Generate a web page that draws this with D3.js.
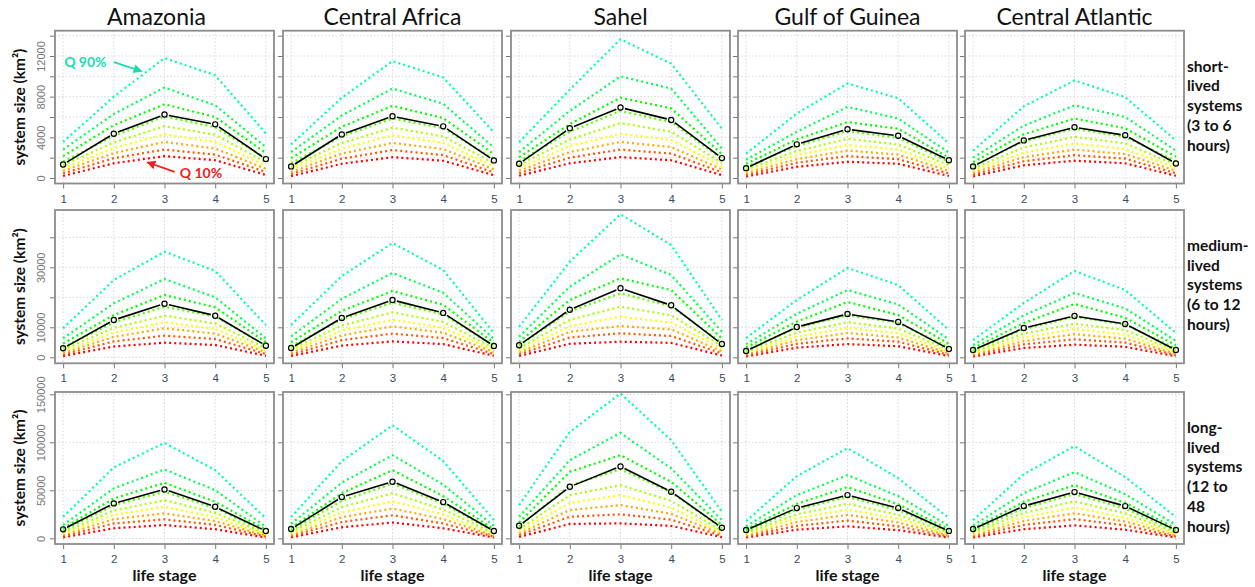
<!DOCTYPE html>
<html>
<head>
<meta charset="utf-8">
<script src="https://cdn.jsdelivr.net/npm/d3@7"></script>
<style>
  body { margin: 0; background: #fff; }
  svg { display: block; }
  text { font-family: Lato, "Open Sans", "DejaVu Sans", sans-serif; }
</style>
</head>
<body>
<div id="chart"></div>
<script>
// categories
var stages = [1, 2, 3, 4, 5];
var regions = ["Amazonia", "Central Africa", "Sahel", "Gulf of Guinea", "Central Atlantic"];
var quantiles = [10, 20, 30, 40, 50, 60, 70, 80, 90];
var durationLabels = [
  ["short-", "lived", "systems", "(3 to 6", "hours)"],
  ["medium-", "lived", "systems", "(6 to 12", "hours)"],
  ["long-", "lived", "systems", "(12 to", "48", "hours)"]
];

// tick values per row, and which of them carry a label
var shortTicks = [0, 2000, 4000, 6000, 8000, 10000, 12000, 14000];
var shortTickLabels = [0, 4000, 8000, 12000];
var mediumTicks = [0, 10000, 20000, 30000, 40000];
var mediumTickLabels = [0, 10000, 30000];
var longTicks = [0, 50000, 100000, 150000];
var longTickLabels = [0, 50000, 100000, 150000];

// quantile lines (Q10 .. Q90), each over stages 1..5, in km2
var short_Amazonia = [
  [200, 1450, 2150, 1750, 300],
  [450, 1950, 2800, 2300, 600],
  [700, 2450, 3550, 2900, 900],
  [950, 2950, 4300, 3550, 1200],
  [1250, 3500, 5100, 4250, 1550],
  [1600, 4150, 6050, 5000, 1950],
  [2150, 5200, 7250, 6000, 2450],
  [2800, 6300, 8900, 7150, 3050],
  [3550, 8000, 11800, 10100, 4400]
];
var short_CentralAfrica = [
  [180, 1400, 2050, 1700, 280],
  [400, 1900, 2750, 2250, 550],
  [600, 2400, 3450, 2850, 850],
  [850, 2900, 4200, 3450, 1150],
  [1100, 3450, 4950, 4100, 1450],
  [1450, 4100, 5850, 4900, 1850],
  [1950, 5050, 7100, 5900, 2350],
  [2550, 6150, 8800, 7300, 3000],
  [3300, 7900, 11500, 9900, 4500]
];
var short_Sahel = [
  [220, 1450, 2050, 1750, 280],
  [470, 2000, 2800, 2400, 560],
  [720, 2550, 3550, 3050, 850],
  [1000, 3150, 4350, 3750, 1150],
  [1300, 3800, 5400, 4550, 1500],
  [1650, 4550, 6600, 5500, 1900],
  [2050, 5300, 7900, 6850, 2350],
  [2550, 6600, 10000, 8800, 2900],
  [3530, 8700, 13650, 11250, 4850]
];
var short_GulfOfGuinea = [
  [150, 1100, 1600, 1400, 200],
  [300, 1500, 2150, 1850, 450],
  [480, 1850, 2700, 2300, 700],
  [650, 2250, 3250, 2800, 950],
  [850, 2650, 3850, 3300, 1250],
  [1100, 3150, 4600, 3950, 1600],
  [1400, 3800, 5500, 4850, 2000],
  [1800, 4550, 7000, 5850, 2500],
  [2400, 6350, 9300, 7850, 3400]
];
var short_CentralAtlantic = [
  [160, 1250, 1700, 1450, 220],
  [330, 1650, 2250, 1900, 470],
  [520, 2050, 2800, 2350, 720],
  [720, 2500, 3400, 2850, 1000],
  [950, 3000, 4050, 3400, 1300],
  [1200, 3600, 4850, 4050, 1650],
  [1550, 4300, 5850, 4900, 2100],
  [2000, 5150, 7150, 6000, 2700],
  [2700, 7050, 9600, 7950, 3700]
];

var medium_Amazonia = [
  [400, 3600, 4870, 4100, 500],
  [900, 5300, 7200, 6100, 1100],
  [1400, 6800, 9670, 7900, 1700],
  [2000, 8200, 11670, 9500, 2300],
  [2600, 9800, 13870, 11300, 3000],
  [3400, 11600, 16870, 13600, 3900],
  [4600, 14100, 20770, 16670, 5000],
  [6330, 18000, 26100, 20000, 6330],
  [9670, 25770, 35200, 28770, 10770]
];
var medium_CentralAfrica = [
  [450, 3900, 5300, 4400, 500],
  [950, 5700, 7900, 6400, 1100],
  [1500, 7300, 10300, 8200, 1700],
  [2100, 8900, 12500, 9900, 2300],
  [2800, 10600, 15000, 11800, 3000],
  [3700, 12700, 18200, 14300, 3800],
  [5000, 15500, 22100, 17500, 4800],
  [7000, 19500, 28100, 21500, 6100],
  [10770, 27100, 38100, 29100, 8100]
];
var medium_Sahel = [
  [450, 4500, 5200, 4800, 600],
  [1000, 6600, 8000, 7100, 1300],
  [1600, 8500, 10430, 9300, 2000],
  [2200, 10400, 13530, 11600, 2800],
  [3000, 12500, 16870, 14000, 3700],
  [3900, 15300, 21330, 17000, 4800],
  [5100, 19100, 26330, 22430, 6300],
  [6870, 23530, 34330, 27430, 8530],
  [10200, 31900, 47660, 37430, 12430]
];
var medium_GulfOfGuinea = [
  [300, 3200, 4400, 3700, 400],
  [650, 4500, 6300, 5200, 850],
  [1050, 5700, 8100, 6600, 1350],
  [1450, 6900, 9800, 8000, 1900],
  [1900, 8200, 11700, 9600, 2500],
  [2500, 9800, 14000, 11500, 3300],
  [3300, 11900, 18430, 14100, 4500],
  [4400, 14500, 22430, 17600, 6000],
  [6430, 19100, 29770, 24100, 9100]
];
var medium_CentralAtlantic = [
  [280, 3100, 4200, 3500, 350],
  [600, 4300, 6000, 4900, 750],
  [950, 5400, 7700, 6200, 1150],
  [1350, 6600, 9400, 7600, 1650],
  [1800, 7900, 11200, 9100, 2200],
  [2350, 9400, 13500, 10900, 2900],
  [3100, 11400, 17770, 13200, 4000],
  [4100, 14000, 21430, 16300, 5500],
  [5770, 18100, 28770, 22430, 8100]
];

var long_Amazonia = [
  [1000, 10500, 13830, 9500, 800],
  [2200, 15500, 19760, 14000, 1800],
  [3400, 20000, 26000, 18000, 2800],
  [4800, 24500, 32860, 22000, 4000],
  [6300, 29000, 39830, 26500, 5400],
  [8200, 34500, 48460, 31500, 7000],
  [10500, 41600, 57820, 38060, 9000],
  [13830, 52000, 71760, 50230, 12070],
  [22470, 73840, 99420, 71030, 20800]
];
var long_CentralAfrica = [
  [1000, 11500, 16500, 10500, 850],
  [2300, 17000, 24000, 15500, 1900],
  [3500, 22000, 31000, 20000, 3000],
  [5000, 27000, 38500, 25000, 4200],
  [6500, 32500, 47000, 30000, 5600],
  [8500, 39000, 57000, 36000, 7300],
  [11000, 47000, 71000, 44000, 9500],
  [15000, 58000, 86600, 56000, 13000],
  [22150, 80400, 117800, 80400, 19030]
];
var long_Sahel = [
  [1500, 15000, 15600, 13000, 1200],
  [3200, 22500, 24960, 19500, 2700],
  [5000, 29500, 34630, 25500, 4200],
  [7200, 37000, 45030, 32000, 6000],
  [9500, 45000, 55430, 39000, 8000],
  [12500, 55000, 72000, 48000, 10500],
  [16500, 69260, 86630, 58860, 14000],
  [22470, 81430, 109800, 72800, 19030],
  [34630, 110860, 150800, 102200, 27660]
];
var long_GulfOfGuinea = [
  [900, 9000, 12500, 8500, 800],
  [2000, 13000, 18500, 12500, 1800],
  [3100, 17000, 24500, 16500, 2900],
  [4300, 21000, 30000, 20500, 4100],
  [5600, 25000, 36000, 24500, 5500],
  [7300, 30000, 43000, 29500, 7200],
  [9500, 36000, 53350, 35500, 9500],
  [12500, 45000, 65830, 44000, 13000],
  [18000, 64790, 93910, 62700, 21100]
];
var long_CentralAtlantic = [
  [950, 9500, 13500, 9000, 850],
  [2100, 14000, 20000, 13500, 1900],
  [3300, 18000, 26000, 17500, 3100],
  [4600, 22000, 32000, 21500, 4400],
  [6000, 26500, 38500, 26000, 5900],
  [7900, 31500, 46000, 31000, 7800],
  [10200, 38000, 55430, 37000, 10300],
  [13500, 47000, 68950, 46000, 14000],
  [19030, 66870, 96000, 63750, 22150]
];

// mean system size per region (black line with circles)
var short_means = [
  [1330, 4360, 6240, 5280, 1860],
  [1140, 4290, 6070, 5080, 1730],
  [1400, 4890, 6930, 5710, 1960],
  [970, 3310, 4790, 4150, 1750],
  [1140, 3700, 4990, 4200, 1430]
];
var medium_means = [
  [3000, 12430, 17870, 13870, 3870],
  [3100, 13100, 19100, 14800, 3770],
  [4000, 15870, 23000, 17330, 4430],
  [2100, 10100, 14430, 11770, 2770],
  [2430, 9770, 13770, 11100, 2430]
];
var long_means = [
  [9360, 36400, 50960, 32860, 7590],
  [9670, 42950, 59000, 37750, 7590],
  [13100, 53660, 74880, 48460, 11030],
  [8630, 31510, 45030, 31510, 7590],
  [9670, 33590, 48150, 33590, 8630]
];

// ---- layout ----
var W = 1255, H = 587;
var colLeft = [55, 283, 511, 738, 965];
var panelW = 219;
var rowTop = [30.7, 210, 392];
var rowBottom = [183.5, 363.3, 544];
var yDomains = [[-540, 14490], [-2000, 49100], [-5900, 152400]];

var rows = [
  {panels: [short_Amazonia, short_CentralAfrica, short_Sahel, short_GulfOfGuinea, short_CentralAtlantic],
   means: short_means, ticks: shortTicks, tickLabels: shortTickLabels},
  {panels: [medium_Amazonia, medium_CentralAfrica, medium_Sahel, medium_GulfOfGuinea, medium_CentralAtlantic],
   means: medium_means, ticks: mediumTicks, tickLabels: mediumTickLabels},
  {panels: [long_Amazonia, long_CentralAfrica, long_Sahel, long_GulfOfGuinea, long_CentralAtlantic],
   means: long_means, ticks: longTicks, tickLabels: longTickLabels}
];

// red -> yellow -> green -> aquamarine, like an R rainbow cut short
var qColor = d3.scaleLinear().domain([10, 90]).range([0, 160]);
function colorFor(q) { return d3.hsl(qColor(q), 1, 0.5).formatHex(); }

var svg = d3.select("#chart").append("svg")
    .attr("width", W)
    .attr("height", H);

svg.append("defs").selectAll("marker")
  .data([["arrTeal", "#17dcae"], ["arrRed", "#f0201c"]])
  .enter().append("marker")
    .attr("id", function(d) { return d[0]; })
    .attr("viewBox", "0 0 10 10")
    .attr("refX", 9).attr("refY", 5)
    .attr("markerWidth", 5).attr("markerHeight", 5)
    .attr("orient", "auto")
  .append("path")
    .attr("d", "M0,0 L10,5 L0,10 z")
    .attr("fill", function(d) { return d[1]; });

// column titles
svg.selectAll(".title")
  .data(regions)
  .enter().append("text")
    .attr("x", function(d, i) { return colLeft[i] + panelW / 2 - (i == 0 ? 8 : 0); })
    .attr("y", 25)
    .attr("text-anchor", "middle")
    .attr("font-size", 23)
    .attr("fill", "#111")
    .text(function(d) { return d; });

rows.forEach(function(row, r) {
  var y = d3.scaleLinear().domain(yDomains[r]).range([rowBottom[r], rowTop[r]]);

  // y-axis title
  svg.append("text")
    .attr("transform", "translate(24.5," + ((rowTop[r] + rowBottom[r]) / 2) + ") rotate(-90)")
    .attr("text-anchor", "middle")
    .attr("font-size", 15.5)
    .attr("font-weight", "bold")
    .attr("fill", "#111")
    .text("system size (km²)");

  // row label on the right
  svg.append("g").selectAll("text")
    .data(durationLabels[r])
    .enter().append("text")
      .attr("x", 1187)
      .attr("y", function(d, i) { return rowTop[r] + 41 + i * 19.7; })
      .attr("font-size", 15.5)
      .attr("font-weight", "bold")
      .attr("fill", "#111")
      .text(function(d) { return d; });

  row.panels.forEach(function(qs, c) {
    var x = d3.scaleLinear().domain([0.84, 5.16]).range([colLeft[c], colLeft[c] + panelW]);
    var g = svg.append("g");

    // grid
    g.selectAll(".gx").data(stages).enter().append("line")
      .attr("x1", function(d) { return x(d); }).attr("x2", function(d) { return x(d); })
      .attr("y1", rowTop[r]).attr("y2", rowBottom[r])
      .attr("stroke", "#d8d8d8").attr("stroke-dasharray", "1.5,2");
    g.selectAll(".gy").data(row.ticks).enter().append("line")
      .attr("x1", colLeft[c]).attr("x2", colLeft[c] + panelW)
      .attr("y1", function(d) { return y(d); }).attr("y2", function(d) { return y(d); })
      .attr("stroke", "#d8d8d8").attr("stroke-dasharray", "1.5,2");

    // y axis ticks (labels only in the first column)
    var yAxis = d3.axisLeft(y).tickValues(row.ticks).tickSize(5).tickPadding(3)
      .tickFormat(function(d) { return (c == 0 && row.tickLabels.indexOf(d) >= 0) ? d : ""; });
    var ya = g.append("g")
      .attr("transform", "translate(" + colLeft[c] + ",0)")
      .call(yAxis);
    ya.select(".domain").remove();
    ya.selectAll("line").attr("stroke", "#777");
    ya.selectAll("text")
      .attr("transform", "translate(-10,0) rotate(-90)")
      .attr("x", 0).attr("y", 0).attr("dy", 0)
      .attr("text-anchor", "middle")
      .attr("font-size", 11)
      .attr("fill", "#777")
      .style("font-family", "'Liberation Sans', Arial, sans-serif");

    // x axis
    var xa = g.append("g")
      .attr("transform", "translate(0," + rowBottom[r] + ")")
      .call(d3.axisBottom(x).tickValues(stages).tickSize(5).tickPadding(6).tickFormat(d3.format("d")));
    xa.select(".domain").remove();
    xa.selectAll("line").attr("stroke", "#777");
    xa.selectAll("text")
      .attr("font-size", 11.5)
      .attr("fill", "#3a4a5c")
      .style("font-family", "'Liberation Sans', Arial, sans-serif");

    // quantile lines
    var line = d3.line()
      .x(function(d, i) { return x(stages[i]); })
      .y(function(d) { return y(d); });
    g.selectAll(".q").data(qs).enter().append("path")
      .attr("d", line)
      .attr("fill", "none")
      .attr("stroke", function(d, i) { return colorFor(quantiles[i]); })
      .attr("stroke-width", 2.2)
      .attr("stroke-dasharray", "2,3.1");

    // mean: segments with gaps around open circles (type "b")
    var m = row.means[c];
    var pts = m.map(function(v, i) { return [x(stages[i]), y(v)]; });
    var segs = d3.pairs(pts);
    g.selectAll(".seg").data(segs).enter().append("line")
      .each(function(d) {
        var dx = d[1][0] - d[0][0], dy = d[1][1] - d[0][1];
        var len = Math.sqrt(dx * dx + dy * dy), gap = 4.5;
        d3.select(this)
          .attr("x1", d[0][0] + dx / len * gap).attr("y1", d[0][1] + dy / len * gap)
          .attr("x2", d[1][0] - dx / len * gap).attr("y2", d[1][1] - dy / len * gap);
      })
      .attr("stroke", "#000").attr("stroke-width", 1.6);
    g.selectAll(".pt").data(pts).enter().append("circle")
      .attr("cx", function(d) { return d[0]; })
      .attr("cy", function(d) { return d[1]; })
      .attr("r", 2.6)
      .attr("fill", "none").attr("stroke", "#000").attr("stroke-width", 1.2);

    // box
    g.append("rect")
      .attr("x", colLeft[c]).attr("y", rowTop[r])
      .attr("width", panelW).attr("height", rowBottom[r] - rowTop[r])
      .attr("fill", "none").attr("stroke", "#8c8c8c").attr("stroke-width", 1.8);

    if (r == 2) {
      g.append("text")
        .attr("x", x(3)).attr("y", 581)
        .attr("text-anchor", "middle")
        .attr("font-size", 16)
        .attr("font-weight", "bold")
        .attr("fill", "#111")
        .text("life stage");
    }

    // quantile annotations in the first panel
    if (r == 0 && c == 0) {
      g.append("text")
        .attr("x", x(1.02)).attr("y", y(10900))
        .attr("font-size", 14).attr("font-weight", "bold")
        .attr("fill", "#17dcae").text("Q 90%");
      g.append("line")
        .attr("x1", x(2.0)).attr("y1", y(11400))
        .attr("x2", x(2.55)).attr("y2", y(10500))
        .attr("stroke", "#17dcae").attr("stroke-width", 1.8)
        .attr("marker-end", "url(#arrTeal)");
      g.append("text")
        .attr("x", x(3.3)).attr("y", y(-40))
        .attr("font-size", 14).attr("font-weight", "bold")
        .attr("fill", "#f0201c").text("Q 10%");
      g.append("line")
        .attr("x1", x(3.2)).attr("y1", y(600))
        .attr("x2", x(2.66)).attr("y2", y(1550))
        .attr("stroke", "#f0201c").attr("stroke-width", 1.8)
        .attr("marker-end", "url(#arrRed)");
    }
  });
});
</script>
</body>
</html>
